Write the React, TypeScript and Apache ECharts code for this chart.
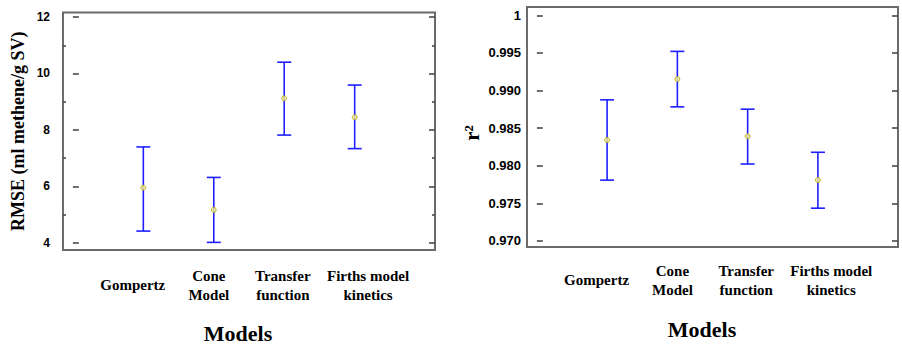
import React, { useEffect, useRef } from "react";
import * as echarts from "echarts";

const categories = ["Gompertz", "Cone\nModel", "Transfer\nfunction", "Firths model\nkinetics"];
const categoryPos = [1, 2, 3, 4];
const labelPos = [0.85, 1.93, 2.98, 4.19];

const rmseMean = [5.96, 5.17, 9.12, 8.45];
const rmseLow = [4.42, 4.02, 7.82, 7.34];
const rmseHigh = [7.4, 6.32, 10.4, 9.59];
const rmseMajorTicks = [4, 6, 8, 10, 12];
const rmseMinorTicks = [5, 7, 9, 11];

const r2Mean = [0.98343, 0.99152, 0.98392, 0.97809];
const r2Low = [0.97809, 0.98783, 0.98023, 0.97436];
const r2High = [0.98876, 0.9952, 0.98752, 0.98179];
const r2Ticks = [0.97, 0.975, 0.98, 0.985, 0.99, 0.995, 1];

const BAR = "#1f1fff";
const TICK = "#4a4a4a";
const LABEL = "#000";

function errorRender(params: any, api: any) {
  const x = api.value(0);
  const lo = api.coord([x, api.value(1)]);
  const hi = api.coord([x, api.value(2)]);
  const w = 7;
  const st = { stroke: BAR, lineWidth: 1.6 };
  return {
    type: "group",
    children: [
      { type: "line", shape: { x1: lo[0], y1: lo[1], x2: hi[0], y2: hi[1] }, style: st },
      { type: "line", shape: { x1: lo[0] - w, y1: lo[1], x2: lo[0] + w, y2: lo[1] }, style: st },
      { type: "line", shape: { x1: hi[0] - w, y1: hi[1], x2: hi[0] + w, y2: hi[1] }, style: st },
    ],
  };
}

function xAxisFor(gridIndex: number, margin: number) {
  return {
    type: "value",
    gridIndex,
    min: -0.14,
    max: 5.14,
    axisLine: { show: false },
    axisTick: { show: false },
    splitLine: { show: false },
    axisLabel: {
      customValues: labelPos,
      formatter: (v: number) => categories[Math.round(v) - 1] ?? "",
      margin,
      verticalAlign: "middle",
      align: "center",
      fontFamily: "Liberation Serif",
      fontWeight: "bold",
      fontSize: 15,
      lineHeight: 19,
      color: LABEL,
    },
  };
}

function yAxisFor(
  gridIndex: number,
  min: number,
  max: number,
  position: string,
  ticks: number[],
  len: number,
  showLabel: boolean,
  margin: number,
  fontSize: number,
  fmt?: (v: number) => string,
  extra: any = {}
) {
  return {
    type: "value",
    gridIndex,
    min,
    max,
    position,
    axisLine: { show: false },
    splitLine: { show: false },
    axisTick: {
      show: true,
      inside: true,
      length: len,
      customValues: ticks,
      lineStyle: { color: TICK, width: 1.6 },
    },
    axisLabel: {
      show: showLabel,
      customValues: ticks,
      margin,
      fontFamily: "Liberation Sans",
      fontWeight: "bold",
      fontSize,
      color: LABEL,
      formatter: fmt,
    },
    ...extra,
  };
}

export default function App() {
  const ref = useRef<HTMLDivElement>(null);
  useEffect(() => {
    if (!ref.current) return;
    const chart = echarts.init(ref.current, null, { renderer: "svg" });
    const rMin = 3.75;
    const rMax = 12.16;
    const qMin = 0.9692;
    const qMax = 1.0011;
    chart.setOption({
      animation: false,
      backgroundColor: "#fff",
      grid: [
        { left: 63, top: 12.5, width: 372, height: 237.5, show: true, borderColor: "#6a6a6a", borderWidth: 2, backgroundColor: "transparent" },
        { left: 527, top: 7, width: 371, height: 240, show: true, borderColor: "#6a6a6a", borderWidth: 2, backgroundColor: "transparent" },
      ],
      xAxis: [xAxisFor(0, 35), xAxisFor(1, 33)],
      yAxis: [
        yAxisFor(0, rMin, rMax, "left", rmseMajorTicks, 6, true, 13, 12, (v: number) => String(v), {
          name: "RMSE (ml methene/g SV)",
          nameLocation: "middle",
          nameRotate: 90,
          nameGap: 36,
          nameTextStyle: { fontFamily: "Liberation Serif", fontWeight: "bold", fontSize: 18, color: LABEL },
        }),
        yAxisFor(0, rMin, rMax, "left", rmseMinorTicks, 3, false, 8, 12),
        yAxisFor(0, rMin, rMax, "right", rmseMajorTicks, 6, false, 8, 12),
        yAxisFor(0, rMin, rMax, "right", rmseMinorTicks, 3, false, 8, 12),
        yAxisFor(1, qMin, qMax, "left", r2Ticks, 6, true, 6, 13, (v: number) => (Math.abs(v - 1) < 1e-9 ? "1" : v.toFixed(3))),
        yAxisFor(1, qMin, qMax, "right", r2Ticks, 6, false, 8, 13),
      ],
      graphic: [
        { type: "text", x: 238, y: 333, style: { text: "Models", align: "center", verticalAlign: "middle", fontFamily: "Liberation Serif", fontWeight: "bold", fontSize: 22, fill: LABEL } },
        { type: "text", x: 702, y: 329, style: { text: "Models", align: "center", verticalAlign: "middle", fontFamily: "Liberation Serif", fontWeight: "bold", fontSize: 22, fill: LABEL } },
        { type: "text", x: 472, y: 133, rotation: Math.PI / 2, style: { text: "r²", align: "center", verticalAlign: "middle", fontFamily: "Liberation Serif", fontWeight: "bold", fontSize: 21, fill: LABEL } },
      ],
      series: [
        {
          type: "custom",
          xAxisIndex: 0,
          yAxisIndex: 0,
          renderItem: errorRender,
          encode: { x: 0, y: [1, 2] },
          data: categoryPos.map((p, i) => [p, rmseLow[i], rmseHigh[i]]),
          z: 2,
        },
        {
          type: "scatter",
          xAxisIndex: 0,
          yAxisIndex: 0,
          symbol: "circle",
          symbolSize: 5,
          itemStyle: { color: "#f2ec9a", borderColor: "#b5a800", borderWidth: 1 },
          data: categoryPos.map((p, i) => [p, rmseMean[i]]),
          z: 3,
        },
        {
          type: "custom",
          xAxisIndex: 1,
          yAxisIndex: 4,
          renderItem: errorRender,
          encode: { x: 0, y: [1, 2] },
          data: categoryPos.map((p, i) => [p, r2Low[i], r2High[i]]),
          z: 2,
        },
        {
          type: "scatter",
          xAxisIndex: 1,
          yAxisIndex: 4,
          symbol: "circle",
          symbolSize: 5,
          itemStyle: { color: "#f2ec9a", borderColor: "#b5a800", borderWidth: 1 },
          data: categoryPos.map((p, i) => [p, r2Mean[i]]),
          z: 3,
        },
      ],
    });
    return () => chart.dispose();
  }, []);
  return <div ref={ref} style={{ position: "fixed", left: 0, top: 0, width: 902, height: 346 }} />;
}
